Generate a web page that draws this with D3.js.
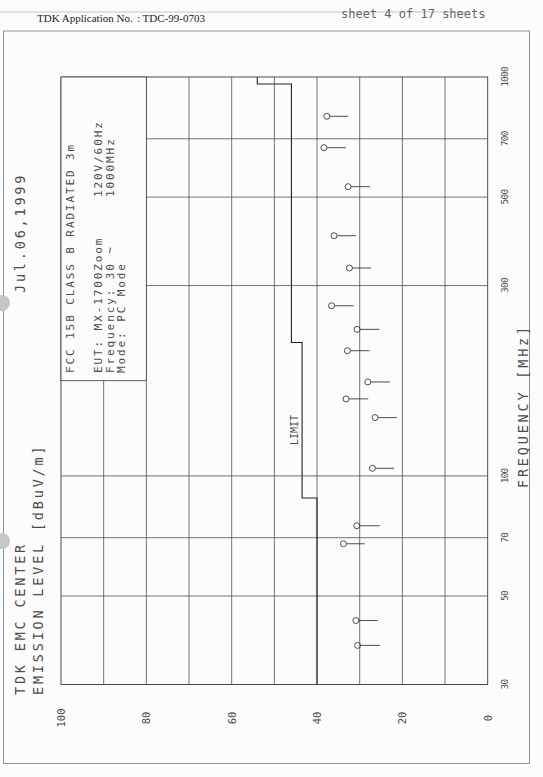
<!DOCTYPE html>
<html><head><meta charset="utf-8">
<script src="https://cdn.jsdelivr.net/npm/d3@7"></script>
<style>body{margin:0;background:#fcfcfc}svg{display:block}</style>
</head><body>
<script>
// ---- data ----
const freqs    = [37.6, 43.4, 67.6, 75, 104.5, 140, 156, 172, 206, 233, 267, 332, 400, 531, 665, 797];
const levels   = [30.5, 30.9, 33.8, 30.7, 27.0, 26.4, 33.2, 28.1, 32.9, 30.6, 36.6, 32.4, 36.0, 32.7, 38.4, 37.7];
const lineEnds = [25.2, 25.8, 28.8, 25.3, 21.9, 21.3, 28.0, 22.9, 27.7, 25.4, 31.4, 27.3, 30.9, 27.6, 33.2, 32.7];
const limitFreqs  = [30, 88, 216, 960, 1000];
const limitLevels = [40, 43.5, 46, 54];
const levelTicks = [100, 80, 60, 40, 20, 0];
const levelGrid  = [90, 80, 70, 60, 50, 40, 30, 20, 10];
const freqTicks  = [30, 50, 70, 100, 300, 500, 700, 1000];
const freqGrid   = [50, 70, 100, 300, 500, 700];
const headerLines = ["FCC 15B CLASS B RADIATED 3m", "EUT: MX-1700Zoom", "Frequency: 30 ~", "Mode: PC Mode"];

const W = 543, H = 777;
const svg = d3.select("body").append("svg").attr("width", W).attr("height", H);
svg.append("rect").attr("width", W).attr("height", H).attr("fill", "#fcfcfc");

const x = d3.scaleLinear().domain([100, 0]).range([61, 487.7]);
const y = d3.scaleLog().domain([30, 1000]).range([684.5, 77]);
const ink = "#3a3a3a";
const textInk = "#4c4c4c";
const mono = "'DejaVu Sans Mono', monospace";

// paper edge + punches
svg.append("line").attr("x1", 0).attr("x2", 470).attr("y1", 12).attr("y2", 12).attr("stroke", "#d8d8d8").attr("stroke-width", 1.5);
svg.append("rect").attr("x", 3.5).attr("y", 31).attr("width", 526).attr("height", 732.5)
  .attr("fill", "none").attr("stroke", "#777").attr("stroke-width", 0.8);
[303, 541].forEach(cy => svg.append("circle").attr("cx", 2).attr("cy", cy).attr("r", 8).attr("fill", "#c6c6c6"));

// document header
svg.append("text").attr("x", 37).attr("y", 22).attr("font-family", "'Liberation Serif', serif").attr("font-size", 11).attr("fill", "#222").text("TDK Application No.");
svg.append("text").attr("x", 137).attr("y", 22).attr("font-family", "'Liberation Serif', serif").attr("font-size", 11).attr("fill", "#222").text(": TDC-99-0703");
svg.append("text").attr("x", 341).attr("y", 18).attr("font-family", mono).attr("font-size", 12).attr("fill", "#666").text("sheet 4 of 17 sheets");

// grid
const g = svg.append("g").attr("stroke", ink).attr("stroke-width", 0.7).attr("fill", "none");
g.selectAll(".vg").data(levelGrid).join("line")
  .attr("x1", d => x(d)).attr("x2", d => x(d)).attr("y1", y(1000)).attr("y2", y(30));
g.selectAll(".hg").data(freqGrid).join("line")
  .attr("x1", x(100)).attr("x2", x(0)).attr("y1", d => y(d)).attr("y2", d => y(d));
g.append("rect").attr("x", x(100)).attr("y", y(1000)).attr("width", x(0) - x(100)).attr("height", y(30) - y(1000)).attr("stroke-width", 0.9);

// header box (covers grid)
const boxBottom = 380.7;
svg.append("rect").attr("x", x(100)).attr("y", y(1000)).attr("width", x(80) - x(100)).attr("height", boxBottom - y(1000))
  .attr("fill", "#fcfcfc").attr("stroke", ink).attr("stroke-width", 0.8);

function rtext(px, py, str, size, ls, anchor) {
  return svg.append("text").attr("transform", `translate(${px},${py}) rotate(-90)`)
    .attr("font-family", mono).attr("font-size", size).attr("letter-spacing", ls)
    .attr("dominant-baseline", "central").attr("text-anchor", anchor || "start")
    .attr("fill", textInk).text(str);
}
const hx = [70, 98.5, 110, 121];
headerLines.forEach((t, i) => rtext(hx[i], 373, t, 11, 1.9));
rtext(hx[1], 197, "120V/60Hz", 11, 1.9);
rtext(hx[2], 197, "1000MHz", 11, 1.9);

// titles
rtext(20, 293, "Jul.06,1999", 13.5, 2.8);
rtext(20, 695, "TDK EMC CENTER", 13.5, 2.8);
rtext(38, 695, "EMISSION LEVEL [dBuV/m]", 13.5, 2.8);
rtext(523, 488, "FREQUENCY [MHz]", 13.5, 2.8);

// tick labels
levelTicks.forEach(v => rtext(x(v), 718, String(v), 10.5, 0, "middle"));
freqTicks.forEach(f => rtext(504, y(f), String(f), 9.5, -0.8, "middle"));

// limit line
const limitPts = [];
limitLevels.forEach((l, i) => { limitPts.push([limitFreqs[i], l]); limitPts.push([limitFreqs[i + 1], l]); });
svg.append("path").attr("d", d3.line().x(d => x(d[1])).y(d => y(d[0]))(limitPts))
  .attr("fill", "none").attr("stroke", "#222").attr("stroke-width", 1.1);
rtext(294, 430, "LIMIT", 10, 0, "middle");

// data markers
const pts = freqs.map((f, i) => ({ f, l: levels[i], e: lineEnds[i] }));
const m = svg.append("g").attr("stroke", ink).attr("fill", "none").attr("stroke-width", 0.9);
m.selectAll("line").data(pts).join("line")
  .attr("x1", d => x(d.l) + 3).attr("x2", d => x(d.e)).attr("y1", d => y(d.f)).attr("y2", d => y(d.f));
m.selectAll("circle").data(pts).join("circle")
  .attr("cx", d => x(d.l)).attr("cy", d => y(d.f)).attr("r", 3);
</script>
</body></html>
